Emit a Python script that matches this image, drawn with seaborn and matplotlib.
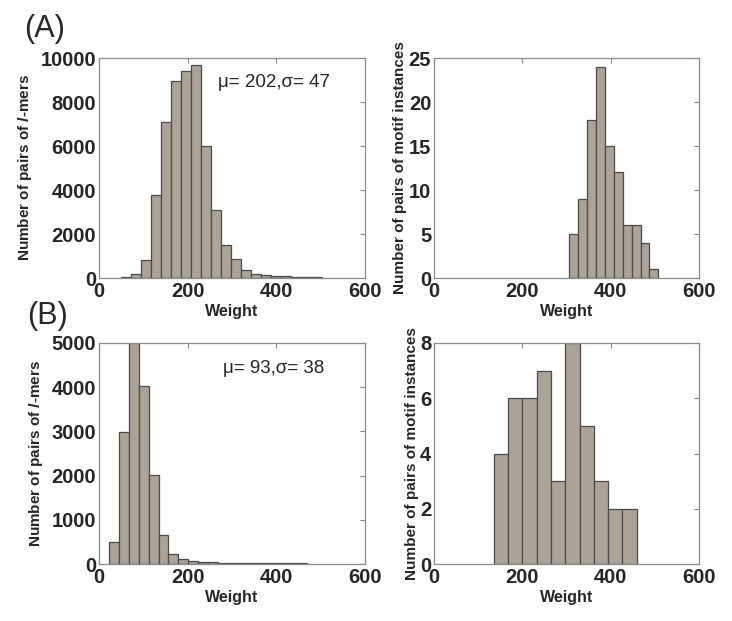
import numpy as np
import pandas as pd
import matplotlib
matplotlib.use("Agg")
import matplotlib.pyplot as plt
import seaborn as sns

# ---------------- data ----------------
# Panel A, left: pairs of l-mers (20 bins)
a_left_counts = [60, 200, 830, 3790, 7090, 8970, 9420, 9670, 5985, 3100,
                 1515, 860, 350, 200, 130, 90, 70, 55, 45, 40]
a_left_range = (50, 502)
# Panel A, right: pairs of motif instances (10 bins)
a_right_counts = [5, 9, 18, 24, 15, 12, 6, 6, 4, 1]
a_right_range = (306, 508)
# Panel B, left: pairs of l-mers (20 bins)
b_left_counts = [500, 2990, 5000, 4020, 2015, 645, 235, 120, 70, 55,
                 35, 30, 28, 25, 22, 20, 20, 18, 16, 15]
b_left_range = (22.5, 470)
# Panel B, right: pairs of motif instances (10 bins)
b_right_counts = [4, 6, 6, 7, 3, 8, 5, 3, 2, 2]
b_right_range = (135.5, 459)

x_ticks = [0, 200, 400, 600]
a_left_yticks = [0, 2000, 4000, 6000, 8000, 10000]
a_right_yticks = [0, 5, 10, 15, 20, 25]
b_left_yticks = [0, 1000, 2000, 3000, 4000, 5000]
b_right_yticks = [0, 2, 4, 6, 8]

a_stats = "μ= 202,σ= 47"
b_stats = "μ= 93,σ= 38"
xlabel = "Weight"
ylabel_lmers = r"Number of pairs of $\mathit{l}$-mers"
ylabel_motif = "Number of pairs of motif instances"

# ---------------- style ----------------
sns.set_style("white")
plt.rcParams["font.family"] = ["Liberation Sans", "DejaVu Sans"]
plt.rcParams["mathtext.fontset"] = "custom"
plt.rcParams["mathtext.rm"] = "Liberation Sans:bold"
plt.rcParams["mathtext.it"] = "Liberation Sans:italic:bold"
plt.rcParams["mathtext.bf"] = "Liberation Sans:bold"

BAR = "#aba397"
EDGE = "#4a4a4a"
SPINE = "#8a8a8a"

fig = plt.figure(figsize=(7.32, 6.21), dpi=100)
W, H = 732, 621


def add_ax(l, t, r, b):
    return fig.add_axes([l / W, 1 - b / H, (r - l) / W, (b - t) / H])


def draw(ax, counts, rng, yticks, ylabel, labelpad):
    n = len(counts)
    edges = np.linspace(rng[0], rng[1], n + 1)
    centers = (edges[:-1] + edges[1:]) / 2
    df = pd.DataFrame({"w": centers, "c": counts})
    sns.histplot(data=df, x="w", weights="c", bins=n, binrange=rng, ax=ax,
                 color=BAR, alpha=1, edgecolor=EDGE, linewidth=0.9)
    ax.set_xlim(0, 600)
    ax.set_ylim(yticks[0], yticks[-1])
    ax.set_xticks(x_ticks)
    ax.set_yticks(yticks)
    ax.tick_params(direction="in", length=3.5, width=0.8, color=SPINE,
                   top=True, right=True, labelsize=14.5)
    ax.tick_params(axis="x", pad=3)
    ax.tick_params(axis="y", pad=2)
    for lab in ax.get_xticklabels() + ax.get_yticklabels():
        lab.set_fontweight("bold")
    for s in ax.spines.values():
        s.set_color(SPINE)
        s.set_linewidth(0.9)
        s.set_visible(True)
    ax.set_xlabel(xlabel, fontsize=11.5, fontweight="bold", labelpad=2)
    ax.set_ylabel(ylabel, fontsize=11, fontweight="bold", labelpad=labelpad)


ax1 = add_ax(99, 58, 365, 278)
draw(ax1, a_left_counts, a_left_range, a_left_yticks, ylabel_lmers, 5)
ax1.text(268, 8900, a_stats, fontsize=13.5, va="center", ha="left")

ax2 = add_ax(434, 58, 699, 278)
draw(ax2, a_right_counts, a_right_range, a_right_yticks, ylabel_motif, 1)

ax3 = add_ax(99, 343, 365, 564)
draw(ax3, b_left_counts, b_left_range, b_left_yticks, ylabel_lmers, 5)
ax3.text(280, 4430, b_stats, fontsize=13.5, va="center", ha="left")

ax4 = add_ax(434, 343, 699, 564)
draw(ax4, b_right_counts, b_right_range, b_right_yticks, ylabel_motif, 1)

fig.text(24 / W, 1 - 29 / H, "(A)", fontsize=22, va="center", ha="left")
fig.text(27 / W, 1 - 316 / H, "(B)", fontsize=22, va="center", ha="left")

fig.savefig("out.png", dpi=100, facecolor="white")
